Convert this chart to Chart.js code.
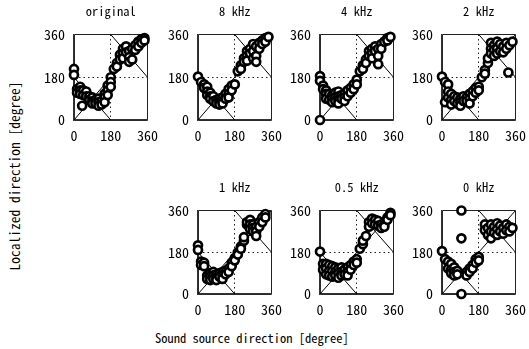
<!DOCTYPE html>
<html>
<head>
<meta charset="utf-8">
<script src="https://cdn.jsdelivr.net/npm/chart.js@4"></script>
<style>
body { margin: 0; background: #fff; }
#wrap { position: relative; width: 529px; height: 349px; overflow: hidden; background: #fff; }
#wrap canvas { position: absolute; }
.lbl { position: absolute; font-family: 'Noto Sans Mono CJK JP', 'DejaVu Sans Mono', monospace; font-size: 12.5px; color: #000; white-space: nowrap; }
#ylab { left: 14px; top: 176px; font-size: 13.5px; transform: translate(-50%, -50%) rotate(-90deg); }
#xlab { left: 252px; top: 337px; transform: translate(-50%, -50%); }
</style>
</head>
<body>
<div id="wrap">
  <div class="lbl" id="ylab">Localized direction [degree]</div>
  <div class="lbl" id="xlab">Sound source direction [degree]</div>
</div>
<script>
// データ
var panelTitles = ['original', '8 kHz', '4 kHz', '2 kHz', '1 kHz', '0.5 kHz', '0 kHz'];
var tickValues = [0, 180, 360];

var origX = [0,0, 15,15, 30,30,30, 40, 45,45, 60,60, 75,75, 90,90,90, 105,105, 120,120,120, 135,135, 150,150,150, 165,165,165, 180,180,180,
  195, 210,210, 225,225, 240,240,240, 255,255, 270,270,270, 285,285, 300,300, 315,315, 330,330, 345,345];
var origY = [215,190, 130,115, 140,125,110, 60, 125,105, 120,100, 100,85, 95,80,70, 85,70, 90,75,60, 80,65, 110,95,75, 145,125,105, 180,160,140,
  215, 240,225, 275,255, 300,280,260, 310,285, 290,265,245, 300,255, 315,295, 330,310, 340,325, 345,335];

var k8X = [0, 15, 30,30, 45,45,45, 60,60,60, 75,75, 90,90, 105,105,105, 120,120,120, 135,135, 150,150,150, 165,165, 180,
  195, 210,210, 225,225, 240,240,240, 255,255, 270,270,270, 285,285,285, 300,300, 315,315, 330,330, 345];
var k8Y = [183, 160, 150,135, 140,120,105, 115,100,90, 100,80, 85,70, 90,75,65, 95,80,70, 110,90, 130,110,95, 145,125, 150,
  205, 230,215, 260,245, 290,270,250, 300,280, 320,290,260, 310,270,245, 325,300, 335,320, 345,330, 350];

var k4X = [0,0,0, 15,15, 30,30,30, 45,45, 60,60,60, 75,75,75, 90,90,90,90, 105,105, 120,120,120, 135,135, 150,150, 165,165, 180,180,
  195, 210,210, 225,225, 240,240, 255,255,255, 270,270, 285,285,285, 300,300, 315, 330,330, 345];
var k4Y = [185,165,0, 145,130, 125,110,90, 110,85, 105,90,75, 115,95,80, 120,100,85,70, 105,90, 110,95,80, 125,100, 135,115, 150,130, 170,150,
  205, 230,215, 255,240, 290,270, 300,280,260, 310,290, 300,270,235, 320,300, 330, 345,335, 350];

var k2X = [0, 15,15, 30,30,30, 45,45,45, 60,60, 75,75, 90,90,90, 105,105, 120,120, 135,135,135, 150,150, 165,165, 180,180,
  195, 210,210, 225,225, 240,240,240, 255,255,255, 270,270,270, 285,285, 300,300, 315,315, 325,330, 345];
var k2Y = [183, 160,75, 150,120,95, 110,85,65, 100,80, 95,70, 90,75,60, 100,80, 95,80, 110,90,70, 120,100, 135,115, 140,125,
  180, 210,195, 240,260, 325,300,280, 315,295,270, 330,300,280, 320,290, 310,285, 325,300, 200,315, 330];

var k1X = [0,0, 15,15, 30,30, 45,45, 60,60,60, 75,75,75, 90,90,90, 105,105, 120,120,120, 135,135, 150,150, 165,165, 180,180,
  195,195, 210,210, 225,225, 240,240, 255,255,255, 270,270,270, 285,285,285, 300,300, 315,315, 330,330];
var k1Y = [210,190, 140,125, 135,120, 80,65, 90,75,60, 95,80,65, 85,70,60, 90,75, 95,80,65, 100,85, 110,95, 135,120, 155,145,
  180,170, 205,195, 230,245, 300,310, 320,300,280, 300,285,270, 290,270,250, 310,290, 330,310, 345,330];

var k05X = [0, 15,15, 30,30,30, 45,45,45, 60,60,60, 75,75,75, 90,90,90, 105,105,105, 120,120, 135,135,135, 150,150, 165,165, 180,180,
  195, 210,210, 225, 240,240, 255,255, 270,270, 285,285, 300,300, 315,315, 330,330, 345,345];
var k05Y = [183, 130,105, 130,110,85, 125,100,80, 120,100,75, 115,95,80, 110,90,70, 115,95,80, 105,85, 115,95,80, 125,105, 140,125, 150,135,
  195, 215,230, 250, 310,290, 325,305, 320,300, 315,295, 300,285, 300,290, 330,320, 350,340];

var k0X = [95,95,95, 0, 15, 30,30, 45,45,45, 60,60,60, 75,75, 120,120, 135,135, 150,150, 165,165, 180,180,
  210,210, 225,225, 240,240,240, 255,255, 270,270,270, 285,285, 300,300, 315,315, 330,330, 345];
var k0Y = [360,240,0, 185, 150, 140,110, 130,105,90, 115,95,80, 100,85, 95,80, 110,95, 125,110, 150,135, 160,145,
  300,275, 285,255, 300,270,240, 290,265, 305,280,255, 295,270, 285,260, 300,275, 290,270, 285];

var panelX = [origX, k8X, k4X, k2X, k1X, k05X, k0X];
var panelY = [origY, k8Y, k4Y, k2Y, k1Y, k05Y, k0Y];

// 기준선 (y=x, 전후 혼동선)
var refLines = [[0, 0, 360, 360], [0, 180, 180, 0], [180, 360, 360, 180]];

// 레이아웃
var boxPos = [[74, 35], [198, 35], [320, 35], [442, 35], [198, 211], [320, 211], [442, 211]];
var boxW = 77;
var boxH = [85, 85, 85, 85, 83, 83, 83];
var padL = 45, padT = 32, padR = 14, padB = 26;

var fontFam = "'Noto Sans Mono CJK JP', 'DejaVu Sans Mono', monospace";

var wrap = document.getElementById('wrap');

panelTitles.forEach(function (title, i) {
  var cv = document.createElement('canvas');
  var w = padL + boxW + padR;
  var h = padT + boxH[i] + padB;
  cv.style.left = (boxPos[i][0] - padL) + 'px';
  cv.style.top = (boxPos[i][1] - padT) + 'px';
  cv.style.width = w + 'px';
  cv.style.height = h + 'px';
  cv.width = w;
  cv.height = h;
  wrap.appendChild(cv);

  var pts = panelX[i].map(function (x, j) { return { x: x, y: panelY[i][j] }; });
  var datasets = [{
    data: pts,
    pointStyle: 'circle',
    pointRadius: 4,
    pointBorderWidth: 2.7,
    pointBackgroundColor: '#fff',
    pointBorderColor: '#000',
    showLine: false,
    clip: false,
    order: 0
  }];
  refLines.forEach(function (l) {
    datasets.push({
      data: [{ x: l[0], y: l[1] }, { x: l[2], y: l[3] }],
      showLine: true,
      borderColor: '#000',
      borderWidth: 1,
      pointRadius: 0,
      order: 1
    });
  });

  var axis = function (isY) {
    return {
      type: 'linear',
      min: 0,
      max: 360,
      afterBuildTicks: function (s) { s.ticks = tickValues.map(function (v) { return { value: v }; }); },
      afterFit: function (s) { if (isY) s.width = padL; else s.height = padB; },
      grid: {
        drawTicks: false,
        color: '#222',
        lineWidth: 1
      },
      border: {
        display: true,
        color: '#333',
        width: 1.5,
        dash: function (ctx) { return ctx.tick && ctx.tick.value === 180 ? [1.5, 3] : []; }
      },
      ticks: {
        color: '#000',
        padding: isY ? 9 : 7,
        font: { family: fontFam, size: 14 }
      }
    };
  };

  new Chart(cv.getContext('2d'), {
    type: 'scatter',
    data: { datasets: datasets },
    options: {
      responsive: false,
      animation: false,
      layout: { padding: { left: 0, top: 0, right: padR, bottom: 0 } },
      plugins: {
        legend: { display: false },
        tooltip: { enabled: false },
        title: {
          display: true,
          fullSize: false,
          text: title,
          color: '#000',
          font: { family: fontFam, size: 12.5, weight: 'normal', lineHeight: 1 },
          padding: { top: 2, bottom: 17 }
        }
      },
      scales: { x: axis(false), y: axis(true) }
    }
  });
});
</script>
</body>
</html>
